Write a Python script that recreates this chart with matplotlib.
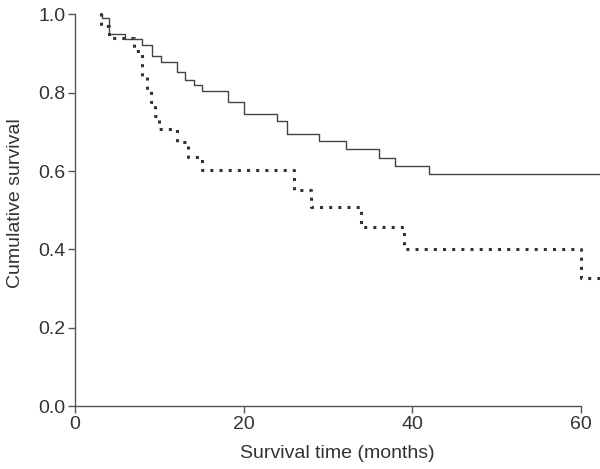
import numpy as np
import matplotlib.pyplot as plt

plt.rcParams['font.family'] = ['Liberation Sans', 'DejaVu Sans']

# solid curve (Kaplan-Meier steps)
solid_t = [3.0, 3.15, 4.07, 5.9, 8.0, 9.1, 10.2, 12.1, 13.0, 14.1, 15.1, 18.1,
           20.0, 24.0, 25.1, 29.0, 32.1, 36.1, 38.0, 42.0, 63.0]
solid_s = [1.0, 0.990, 0.951, 0.937, 0.922, 0.894, 0.879, 0.854, 0.833, 0.819,
           0.805, 0.777, 0.745, 0.728, 0.694, 0.677, 0.656, 0.634, 0.614, 0.592, 0.592]

# dotted curve
dot_t = [3.0, 3.05, 4.07, 7.0, 8.0, 8.6, 9.0, 9.5, 10.0, 12.1, 13.4, 15.1,
         26.0, 28.0, 33.9, 39.0, 60.0, 63.0]
dot_s = [1.0, 0.970, 0.941, 0.907, 0.840, 0.807, 0.776, 0.741, 0.707, 0.674,
         0.636, 0.604, 0.553, 0.509, 0.458, 0.401, 0.326, 0.326]

xticks = [0, 20, 40, 60]
yticks = [0.0, 0.2, 0.4, 0.6, 0.8, 1.0]

fig = plt.figure(figsize=(6, 4.69), dpi=100)
ax = fig.add_axes([0.125, 0.134, 0.875, 0.866])

ax.step(solid_t, solid_s, where='post', color='#444444', lw=1.0)
ax.step(dot_t, dot_s, where='post', color='#333333', lw=2.2,
        linestyle=(0, (1, 2)))

ax.set_xlim(0, 62.3)
ax.set_ylim(0, 1.037)
ax.set_xticks(xticks)
ax.set_yticks(yticks)
ax.set_xticklabels([str(v) for v in xticks])
ax.set_yticklabels(['%.1f' % v for v in yticks])

for s in ['top', 'right']:
    ax.spines[s].set_visible(False)
ax.spines['bottom'].set_bounds(0, 60)
ax.spines['left'].set_bounds(0, 1.0)
for s in ['bottom', 'left']:
    ax.spines[s].set_color('#555555')
    ax.spines[s].set_linewidth(1.0)

ax.tick_params(direction='out', length=5, width=1.0, color='#555555',
               labelsize=14, labelcolor='#333333', pad=2)

ax.set_xlabel('Survival time (months)', fontsize=14, color='#333333', labelpad=9)
ax.set_ylabel('Cumulative survival', fontsize=14, color='#333333', labelpad=10)

plt.savefig('out.png', dpi=100)
